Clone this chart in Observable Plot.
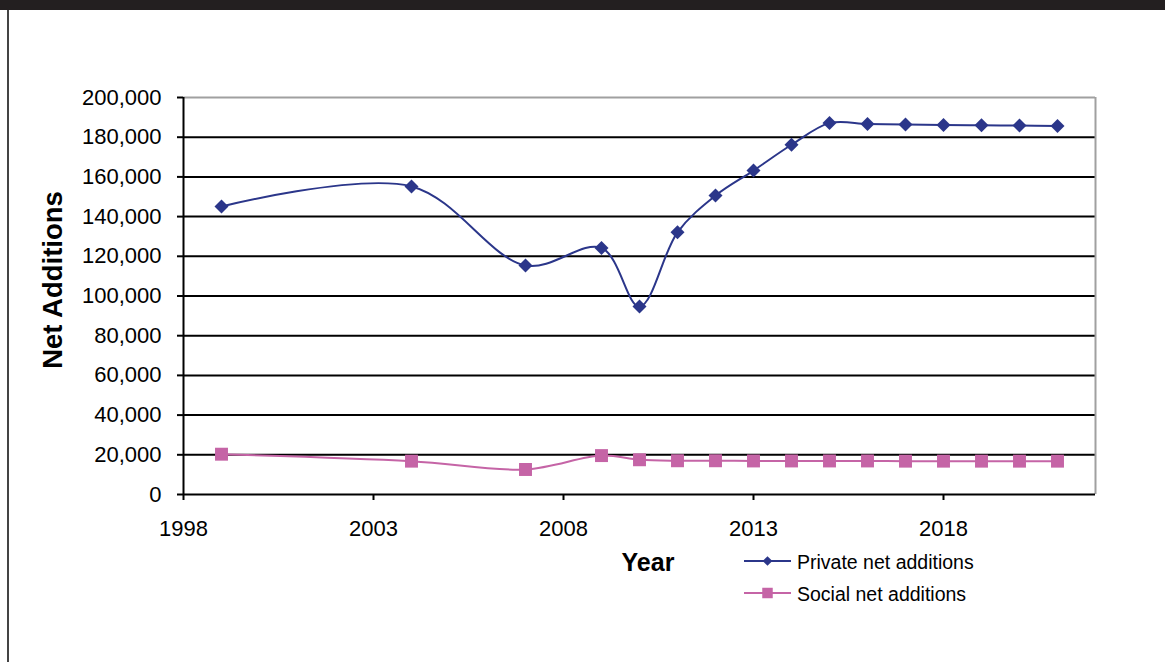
<!DOCTYPE html>
<html>
<head>
<meta charset="utf-8">
<script src="https://cdn.jsdelivr.net/npm/d3@7"></script>
<script src="https://cdn.jsdelivr.net/npm/@observablehq/plot@0.6"></script>
<style>
  html, body { margin: 0; padding: 0; background: #fff; }
  body { width: 1165px; height: 662px; position: relative; overflow: hidden; font-family: "Liberation Sans", Arial, sans-serif; }
  #topbar { position: absolute; left: 0; top: 0; width: 1165px; height: 10px; background: #231f20; }
  #leftline { position: absolute; left: 7px; top: 10px; width: 1.5px; height: 652px; background: #444; }
  #chart { position: absolute; left: 0; top: 0; }
  #ytitle { position: absolute; left: 53px; top: 280px; transform: translate(-50%, -50%) rotate(-90deg); font-weight: bold; font-size: 27.5px; white-space: nowrap; color: #000; }
  #xtitle { position: absolute; left: 648px; top: 548px; transform: translateX(-50%); font-weight: bold; font-size: 25px; color: #000; }
  #legend { position: absolute; left: 740px; top: 545px; }
</style>
</head>
<body>
<div id="topbar"></div>
<div id="leftline"></div>
<div id="chart"></div>
<div id="ytitle">Net Additions</div>
<div id="xtitle">Year</div>
<svg id="legend" width="260" height="70"></svg>
<script>
const years = [1999, 2004, 2007, 2009, 2010, 2011, 2012, 2013, 2014, 2015, 2016, 2017, 2018, 2019, 2020, 2021];
const privateNet = [145100, 155200, 115400, 124200, 94700, 132100, 150600, 163200, 176200, 187100, 186700, 186400, 186200, 186000, 185900, 185700];
const socialNet = [20300, 16800, 12600, 19600, 17500, 17000, 17000, 16900, 16900, 16900, 16900, 16800, 16800, 16800, 16800, 16800];
const seriesNames = ["Private net additions", "Social net additions"];
const xTicks = [1998, 2003, 2008, 2013, 2018];
const yTicks = [0, 20000, 40000, 60000, 80000, 100000, 120000, 140000, 160000, 180000, 200000];

const navy = "#2b368a";
const pink = "#c564a6";

const privateData = years.map((y, i) => ({year: y, value: privateNet[i]}));
const socialData = years.map((y, i) => ({year: y, value: socialNet[i]}));

const chart = Plot.plot({
  width: 1165,
  height: 662,
  marginLeft: 183,
  marginRight: 70,
  marginTop: 97,
  marginBottom: 168,
  style: {fontSize: "22px", fontFamily: "'Liberation Sans', Arial, sans-serif", color: "#000", background: "transparent"},
  x: {domain: [1998, 2022]},
  y: {domain: [0, 200000]},
  marks: [
    Plot.ruleY(yTicks.filter(d => d > 0 && d < 200000), {stroke: "#000", strokeWidth: 2}),
    Plot.ruleY([200000], {stroke: "#a0a0a0", strokeWidth: 2}),
    Plot.ruleX([2022], {stroke: "#a0a0a0", strokeWidth: 2}),
    Plot.axisY({ticks: yTicks, tickSize: 6, tickPadding: 16, tickFormat: d3.format(","), label: null, strokeWidth: 2}),
    Plot.axisX({ticks: xTicks, tickSize: 6, tickPadding: 20, tickFormat: d3.format("d"), label: null, strokeWidth: 2}),
    Plot.ruleX([1998], {stroke: "#000", strokeWidth: 2}),
    Plot.ruleY([0], {stroke: "#000", strokeWidth: 2}),
    Plot.line(privateData, {x: "year", y: "value", stroke: navy, strokeWidth: 2, curve: "catmull-rom"}),
    Plot.dot(privateData, {x: "year", y: "value", symbol: "diamond2", fill: navy, r: 6.3}),
    Plot.line(socialData, {x: "year", y: "value", stroke: pink, strokeWidth: 2, curve: "catmull-rom"}),
    Plot.dot(socialData, {x: "year", y: "value", symbol: "square", fill: pink, r: 7.3})
  ]
});
document.getElementById("chart").appendChild(chart);

// Legend
const leg = d3.select("#legend");
const items = [
  {name: seriesNames[0], color: navy, symbol: d3.symbolDiamond2, size: 60, y: 16},
  {name: seriesNames[1], color: pink, symbol: d3.symbolSquare, size: 110, y: 48}
];
items.forEach(it => {
  leg.append("line").attr("x1", 4).attr("x2", 51).attr("y1", it.y).attr("y2", it.y)
    .attr("stroke", it.color).attr("stroke-width", 2);
  leg.append("path").attr("d", d3.symbol(it.symbol, it.size)())
    .attr("transform", `translate(27.5,${it.y})`).attr("fill", it.color);
  leg.append("text").attr("x", 57).attr("y", it.y + 7.5).text(it.name)
    .attr("font-size", 19.5).attr("font-family", "'Liberation Sans', Arial, sans-serif").attr("fill", "#000");
});
</script>
</body>
</html>
